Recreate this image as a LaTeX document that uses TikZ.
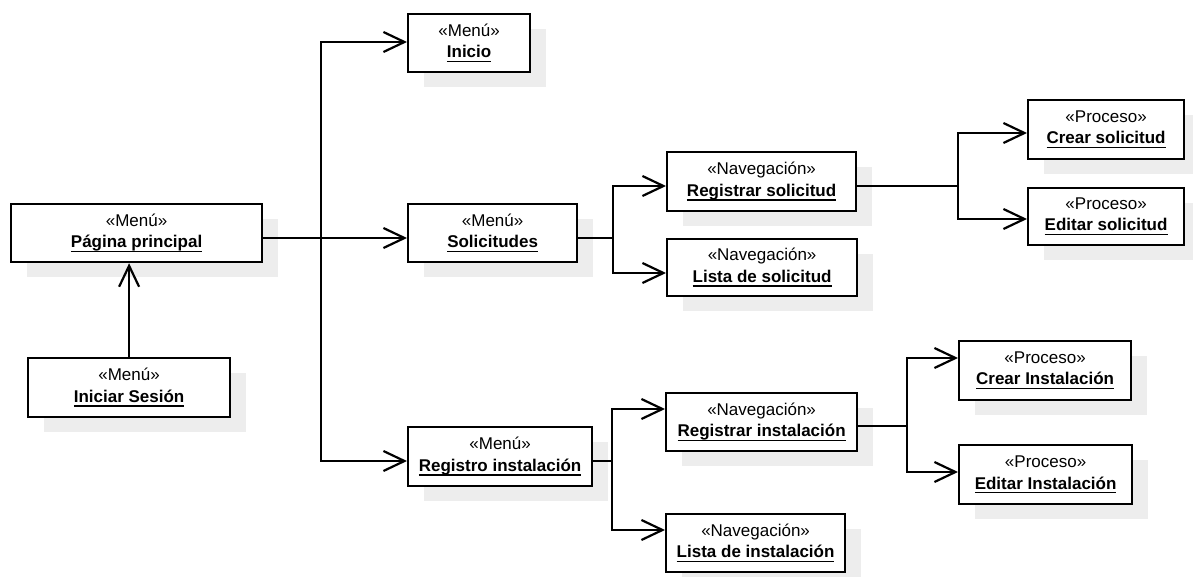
\documentclass[tikz,border=0pt]{standalone}
\usepackage{fontspec}
\setmainfont{Liberation Sans}
\usetikzlibrary{arrows.meta,shadows}

% bold name with a thick underline, as in UML object notation
\newsavebox\namebox
\newcommand\objname[1]{%
  \sbox\namebox{\bfseries #1}%
  \leavevmode\rlap{\usebox\namebox}\raisebox{-4.4pt}{\rule{\wd\namebox}{1.7pt}}}

\tikzset{
  umlbox/.style={draw, line width=2.2pt, fill=white, inner sep=0pt,
    anchor=north west, align=center,
    font=\fontsize{17}{21.5}\selectfont,
    drop shadow={shadow xshift=16pt, shadow yshift=-15pt, fill=black!7, opacity=1}},
  link/.style={line width=2.2pt},
  nav/.style={link, -{Straight Barb[length=21pt,width=20pt]}}
}

\begin{document}
\begin{tikzpicture}[x=1pt, y=-1pt]
\useasboundingbox (0,0) rectangle (1193,577);

% object boxes
\node[umlbox, minimum width=251pt, minimum height=58pt] (pp) at (10,203)
  {«Menú»\\\objname{Página principal}};
\node[umlbox, minimum width=202pt, minimum height=59pt] (is) at (27,357)
  {«Menú»\\\objname{Iniciar Sesión}};
\node[umlbox, minimum width=122pt, minimum height=58pt] (ini) at (407,13)
  {«Menú»\\\objname{Inicio}};
\node[umlbox, minimum width=169pt, minimum height=58pt] (sol) at (407,203)
  {«Menú»\\\objname{Solicitudes}};
\node[umlbox, minimum width=184pt, minimum height=59pt] (ri) at (407,426)
  {«Menú»\\\objname{Registro instalación}};
\node[umlbox, minimum width=189pt, minimum height=59pt] (rs) at (666,151)
  {«Navegación»\\\objname{Registrar solicitud}};
\node[umlbox, minimum width=190pt, minimum height=57pt] (ls) at (666,238)
  {«Navegación»\\\objname{Lista de solicitud}};
\node[umlbox, minimum width=156pt, minimum height=59pt] (cs) at (1027,99)
  {«Proceso»\\\objname{Crear solicitud}};
\node[umlbox, minimum width=156pt, minimum height=57pt] (es) at (1027,187)
  {«Proceso»\\\objname{Editar solicitud}};
\node[umlbox, minimum width=191pt, minimum height=58pt] (rin) at (665,392)
  {«Navegación»\\\objname{Registrar instalación}};
\node[umlbox, minimum width=179pt, minimum height=58pt] (lin) at (665,513)
  {«Navegación»\\\objname{Lista de instalación}};
\node[umlbox, minimum width=172pt, minimum height=59pt] (ci) at (958,340)
  {«Proceso»\\\objname{Crear Instalación}};
\node[umlbox, minimum width=173pt, minimum height=59pt] (ei) at (958,444)
  {«Proceso»\\\objname{Editar Instalación}};

% junction points of the navigation tree
\coordinate (tm) at (321,238);
\coordinate (tt) at (321,42);
\coordinate (tb) at (321,461);
\coordinate (sm) at (613,238);
\coordinate (st) at (613,186);
\coordinate (sb) at (613,273);
\coordinate (rm) at (958,186);
\coordinate (rt) at (958,133);
\coordinate (rb) at (958,219);
\coordinate (im) at (612,461);
\coordinate (it) at (612,409);
\coordinate (ib) at (612,530);
\coordinate (nm) at (907,426);
\coordinate (nt) at (907,358);
\coordinate (nb) at (907,472);

% login leads to the main page
\draw[nav] (is.north) -- (is.north |- pp.south);

% main page menu
\draw[nav] (pp.east |- tm) -- (tm -| sol.west);
\draw[nav] (tm) -- (tt) -- (tt -| ini.west);
\draw[nav] (tm) -- (tb) -- (tb -| ri.west);

% requests
\draw[link] (sol.east |- sm) -- (sm);
\draw[nav] (sm) -- (st) -- (st -| rs.west);
\draw[nav] (sm) -- (sb) -- (sb -| ls.west);
\draw[link] (rs.east |- rm) -- (rm);
\draw[nav] (rm) -- (rt) -- (rt -| cs.west);
\draw[nav] (rm) -- (rb) -- (rb -| es.west);

% installations
\draw[link] (ri.east |- im) -- (im);
\draw[nav] (im) -- (it) -- (it -| rin.west);
\draw[nav] (im) -- (ib) -- (ib -| lin.west);
\draw[link] (rin.east |- nm) -- (nm);
\draw[nav] (nm) -- (nt) -- (nt -| ci.west);
\draw[nav] (nm) -- (nb) -- (nb -| ei.west);
\end{tikzpicture}
\end{document}
